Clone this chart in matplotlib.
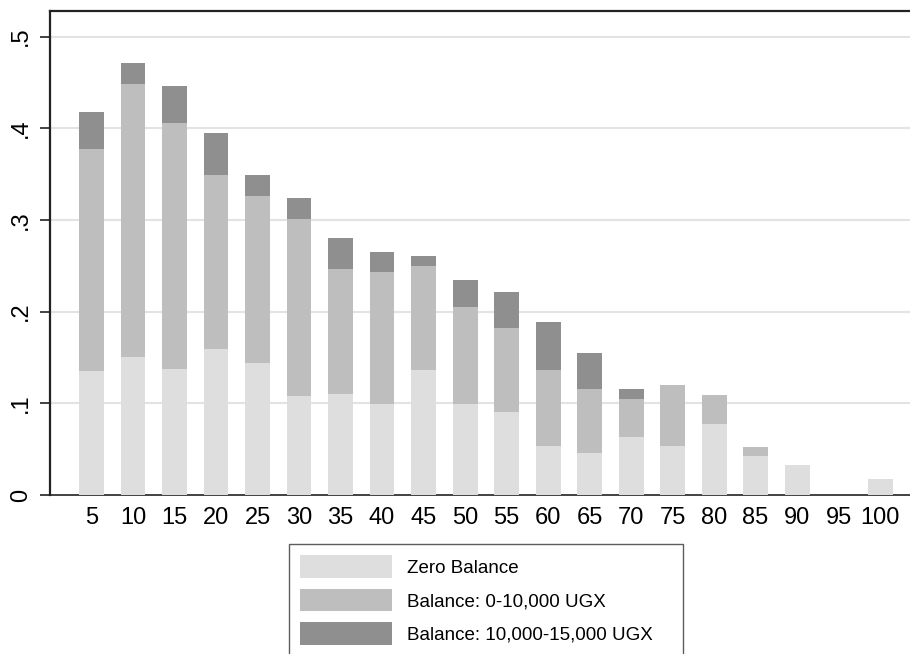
import matplotlib
matplotlib.use("Agg")
import matplotlib.pyplot as plt
import numpy as np

plt.rcParams['font.family'] = ['Liberation Sans', 'DejaVu Sans']

# share of accounts by balance band, per 5-point bin
bins = [5, 10, 15, 20, 25, 30, 35, 40, 45, 50,
        55, 60, 65, 70, 75, 80, 85, 90, 95, 100]
zero_bal = [0.135, 0.151, 0.137, 0.159, 0.144, 0.108, 0.110, 0.099, 0.136, 0.099,
            0.091, 0.053, 0.046, 0.063, 0.053, 0.077, 0.043, 0.033, 0.0, 0.017]
low_bal = [0.243, 0.297, 0.269, 0.190, 0.182, 0.193, 0.137, 0.144, 0.114, 0.106,
           0.091, 0.083, 0.070, 0.042, 0.067, 0.032, 0.009, 0.0, 0.0, 0.0]
mid_bal = [0.040, 0.023, 0.040, 0.046, 0.023, 0.023, 0.033, 0.022, 0.011, 0.030,
           0.040, 0.053, 0.039, 0.011, 0.0, 0.0, 0.0, 0.0, 0.0, 0.0]

labels = ['Zero Balance', 'Balance: 0-10,000 UGX', 'Balance: 10,000-15,000 UGX']
colors = ['#dedede', '#bebebe', '#8f8f8f']

fig = plt.figure(figsize=(9.1, 6.54), dpi=100)
ax = fig.add_axes([50/910, 159/654, 860/910, 484/654])

x = np.array(bins)
base = np.zeros(len(bins))
handles = []
for vals, col, lab in zip([zero_bal, low_bal, mid_bal], colors, labels):
    vals = np.array(vals)
    h = ax.bar(x, vals, width=3, bottom=base, color=col, linewidth=0,
               label=lab, zorder=3)
    handles.append(h)
    base = base + vals

ax.set_xlim(0, 103.6)
ax.set_ylim(0, 0.528)
ax.set_xticks(bins)
ax.set_xticklabels([str(b) for b in bins], fontsize=17)
ax.tick_params(axis='x', length=0, pad=9)

yt = [0, 0.1, 0.2, 0.3, 0.4, 0.5]
ax.set_yticks(yt)
ax.set_yticklabels(['0', '.1', '.2', '.3', '.4', '.5'], fontsize=17,
                   rotation=90, va='center')
ax.tick_params(axis='y', length=7, width=1.2, pad=6, color='#222222')

for v in yt[1:]:
    ax.axhline(v, color='#e3e3e3', lw=1.5, zorder=1)

ax.spines['right'].set_visible(False)
for s in ['top', 'left']:
    ax.spines[s].set_linewidth(1.6)
    ax.spines[s].set_color('#222222')
ax.spines['bottom'].set_linewidth(1.2)
ax.spines['bottom'].set_color('#222222')

# legend box sits under the axis, its lower edge runs off the figure
leg = fig.legend(handles=handles, labels=labels, loc='upper left',
                 bbox_to_anchor=(289/910, 0, 394/910, 1 - 544/654),
                 mode='expand', fontsize=13.5, frameon=True, fancybox=False,
                 edgecolor='#333333', borderpad=0.6, labelspacing=0.6,
                 handlelength=4.9, handleheight=1.45, handletextpad=0.8,
                 borderaxespad=0)
leg.get_frame().set_linewidth(1.0)

fig.savefig('out.png', dpi=100)
